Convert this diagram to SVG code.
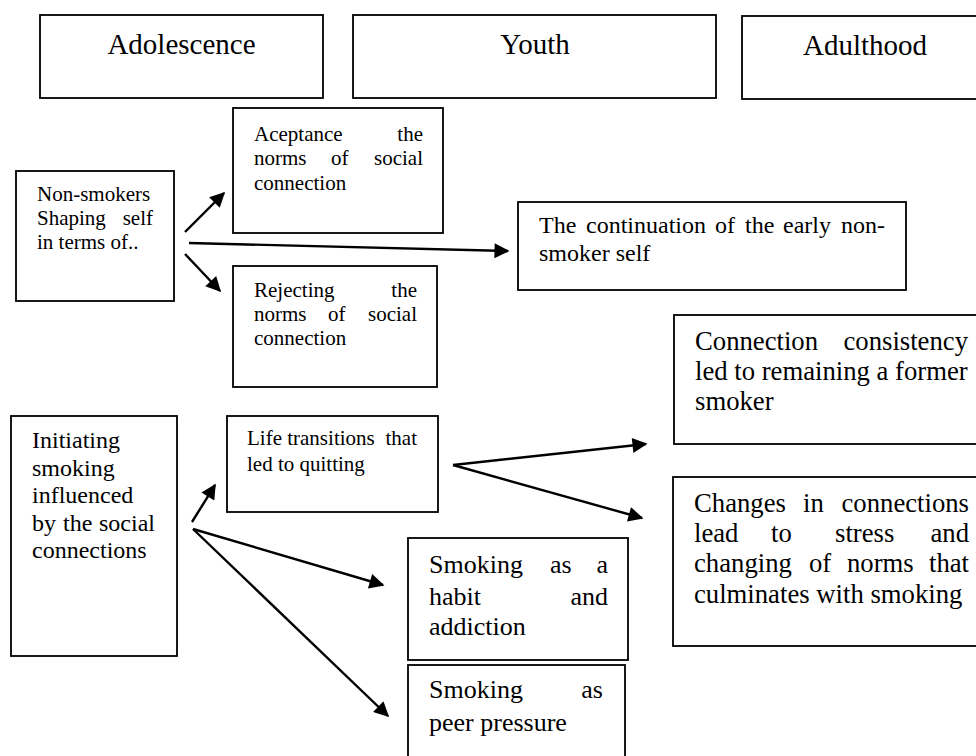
<svg xmlns="http://www.w3.org/2000/svg" width="976" height="756" viewBox="0 0 976 756">
<style>
  rect { fill: #fff; stroke: #000; stroke-width: 1.8; }
  text { font-family: "Liberation Serif", "DejaVu Serif", serif; fill: #000; }
  .h { font-size: 29px; text-anchor: middle; }
  .s21 { font-size: 21px; }
  .s24 { font-size: 24px; }
  .s26 { font-size: 26px; }
  .s27 { font-size: 26.7px; }
  .e { text-anchor: end; }
  .c line { stroke: #000; stroke-width: 2.4; }
</style>
<defs>
  <marker id="ah" viewBox="0 0 10 10" refX="9" refY="5" markerUnits="userSpaceOnUse" markerWidth="20" markerHeight="15" orient="auto">
    <path d="M0,0 L10,5 L0,10 z" fill="#000"/>
  </marker>
</defs>
<rect width="976" height="756" style="stroke:none"/>

<g id="adolescence">
  <rect x="40" y="15" width="283" height="83"/>
  <text class="h" x="181.5" y="54">Adolescence</text>
</g>
<g id="youth">
  <rect x="353" y="15" width="363" height="83"/>
  <text class="h" x="535" y="54">Youth</text>
</g>
<g id="adulthood">
  <rect x="742" y="16" width="250" height="83"/>
  <text class="h" x="865" y="55">Adulthood</text>
</g>

<g id="acceptance">
  <rect x="233" y="108" width="210" height="125"/>
  <text class="s21" x="254" y="141">Aceptance</text>
  <text class="s21 e" x="423" y="141">the</text>
  <text class="s21" x="254" y="165">norms</text>
  <text class="s21" x="331" y="165">of</text>
  <text class="s21 e" x="423" y="165">social</text>
  <text class="s21" x="254" y="190">connection</text>
</g>

<g id="nonsmokers">
  <rect x="16" y="171" width="158" height="130"/>
  <text class="s21" x="37" y="201">Non-smokers</text>
  <text class="s21" x="37" y="225">Shaping</text>
  <text class="s21 e" x="153" y="225">self</text>
  <text class="s21" x="37" y="249">in terms of..</text>
</g>

<g id="continuation">
  <rect x="518" y="202" width="388" height="88"/>
  <text class="s24" y="233"><tspan x="539">The</tspan><tspan x="586">continuation</tspan><tspan x="715">of</tspan><tspan x="745">the</tspan><tspan x="783">early</tspan></text>
  <text class="s24 e" x="885" y="233">non-</text>
  <text class="s24" x="539" y="261">smoker self</text>
</g>

<g id="rejecting">
  <rect x="233" y="266" width="204" height="121"/>
  <text class="s21" x="254" y="297">Rejecting</text>
  <text class="s21 e" x="417" y="297">the</text>
  <text class="s21" x="254" y="321">norms</text>
  <text class="s21" x="328" y="321">of</text>
  <text class="s21 e" x="417" y="321">social</text>
  <text class="s21" x="254" y="345">connection</text>
</g>

<g id="consistency">
  <rect x="674" y="315" width="320" height="129"/>
  <text class="s27" x="695" y="350">Connection</text>
  <text class="s27 e" x="968" y="350">consistency</text>
  <text class="s27" x="695" y="380">led to remaining a former</text>
  <text class="s27" x="695" y="410">smoker</text>
</g>

<g id="initiating">
  <rect x="11" y="416" width="166" height="240"/>
  <text class="s24" x="32" y="448">Initiating</text>
  <text class="s24" x="32" y="475.5">smoking</text>
  <text class="s24" x="32" y="503">influenced</text>
  <text class="s24" y="530.5"><tspan x="32">by</tspan><tspan x="63">the</tspan></text>
  <text class="s24 e" x="155" y="530.5">social</text>
  <text class="s24" x="32" y="558">connections</text>
</g>

<g id="transitions">
  <rect x="227" y="416" width="211" height="96"/>
  <text class="s21" x="247" y="445">Life transitions</text>
  <text class="s21 e" x="417" y="445">that</text>
  <text class="s21" x="247" y="471">led to quitting</text>
</g>

<g id="changes">
  <rect x="673" y="477" width="320" height="169"/>
  <text class="s27" x="694" y="512">Changes</text>
  <text class="s27" x="803" y="512">in</text>
  <text class="s27 e" x="969" y="512">connections</text>
  <text class="s27" x="694" y="542">lead</text>
  <text class="s27" x="771" y="542">to</text>
  <text class="s27" x="835" y="542">stress</text>
  <text class="s27 e" x="969" y="542">and</text>
  <text class="s27" x="694" y="572">changing</text>
  <text class="s27" x="809" y="572">of</text>
  <text class="s27" x="847" y="572">norms</text>
  <text class="s27 e" x="969" y="572">that</text>
  <text class="s27" x="694" y="603">culminates with smoking</text>
</g>

<g id="habit">
  <rect x="408" y="538" width="220" height="122"/>
  <text class="s26" x="429" y="573">Smoking</text>
  <text class="s26" x="550" y="573">as</text>
  <text class="s26 e" x="608" y="573">a</text>
  <text class="s26" x="429" y="605">habit</text>
  <text class="s26 e" x="608" y="605">and</text>
  <text class="s26" x="429" y="635">addiction</text>
</g>

<g id="peer">
  <rect x="408" y="665" width="217" height="110"/>
  <text class="s26" x="429" y="698">Smoking</text>
  <text class="s26 e" x="603" y="698">as</text>
  <text class="s26" x="429" y="731">peer pressure</text>
</g>

<g id="connectors" class="c">
  <line x1="185" y1="232" x2="224" y2="193" marker-end="url(#ah)"/>
  <line x1="189" y1="243" x2="508" y2="251" marker-end="url(#ah)"/>
  <line x1="185" y1="254" x2="220" y2="291" marker-end="url(#ah)"/>
  <line x1="192" y1="522" x2="215" y2="485" marker-end="url(#ah)"/>
  <line x1="193" y1="529" x2="383" y2="585" marker-end="url(#ah)"/>
  <line x1="193" y1="529" x2="388" y2="716" marker-end="url(#ah)"/>
  <line x1="453" y1="465" x2="646" y2="444" marker-end="url(#ah)"/>
  <line x1="453" y1="465" x2="642" y2="518" marker-end="url(#ah)"/>
</g>
</svg>
